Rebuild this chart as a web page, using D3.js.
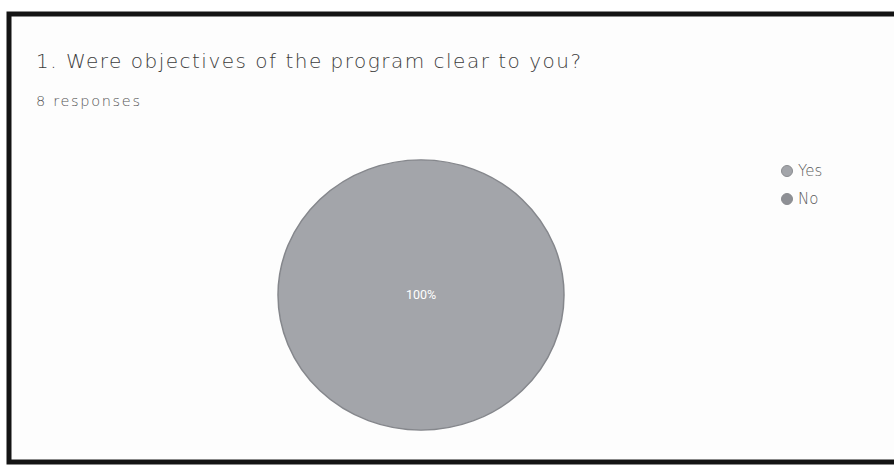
<!DOCTYPE html>
<html><head><meta charset="utf-8">
<script src="https://cdn.jsdelivr.net/npm/d3@7"></script>
<style>html,body{margin:0;padding:0;background:#fff;}</style>
</head><body>
<svg id="c" width="894" height="465"></svg>
<script>
const title = "1. Were objectives of the program clear to you?";
const subtitle = "8 responses";
const categories = ["Yes", "No"];
const values = [8, 0];
const colors = ["#a3a5aa", "#8e9095"];

const svg = d3.select("#c");
// scanned frame
svg.append("rect").attr("x", 9).attr("y", 14).attr("width", 900).attr("height", 448)
  .attr("fill", "#fdfdfd").attr("stroke", "#141414").attr("stroke-width", 5);

svg.append("text").attr("x", 36).attr("y", 68).text(title)
  .attr("textLength", 545).attr("lengthAdjust", "spacing")
  .attr("font-family", "'DejaVu Sans', sans-serif").attr("font-weight", 300)
  .attr("font-size", 20).attr("fill", "#3c3c3c");
svg.append("text").attr("x", 36).attr("y", 106).text(subtitle)
  .attr("textLength", 104).attr("lengthAdjust", "spacing")
  .attr("font-family", "'DejaVu Sans', sans-serif").attr("font-weight", 300)
  .attr("font-size", 14.5).attr("fill", "#555");

const data = categories.map((c, i) => ({cat: c, v: values[i]}));
const pie = d3.pie().sort(null).value(d => d.v);
const arcs = pie(data);
const r = 143;
const arc = d3.arc().innerRadius(0).outerRadius(r);
const g = svg.append("g").attr("transform", "translate(421,295) scale(1,0.945)");
g.selectAll("path").data(arcs.filter(a => a.data.v > 0)).join("path")
  .attr("d", arc).attr("fill", (d) => colors[categories.indexOf(d.data.cat)])
  .attr("stroke", "#85878c").attr("stroke-width", 1.5);
const total = d3.sum(values);
g.selectAll("text.lbl").data(arcs.filter(a => a.data.v > 0)).join("text")
  .attr("class", "lbl")
  .attr("transform", d => {
    const full = (d.endAngle - d.startAngle) > 6.28;
    const p = full ? [0, 0] : arc.centroid(d);
    return `translate(${p[0]},${p[1]}) scale(1,${1/0.945})`;
  })
  .attr("text-anchor", "middle").attr("dy", "0.35em")
  .attr("font-family", "Roboto, Arial, sans-serif").attr("font-size", 12.5).attr("fill", "#fff")
  .text(d => Math.round(d.data.v / total * 1000) / 10 + "%");

const leg = svg.append("g").attr("transform", "translate(787,171)");
const li = leg.selectAll("g").data(categories).join("g").attr("transform", (d, i) => `translate(0,${i * 28})`);
li.append("circle").attr("r", 5.5).attr("fill", (d, i) => colors[i]).attr("stroke", "#8a8c90");
li.append("text").attr("x", 11).attr("dy", "0.35em").text(d => d)
  .attr("font-family", "'DejaVu Sans', sans-serif").attr("font-weight", 300)
  .attr("font-size", 15).attr("fill", "#5a5a5a");
</script>
</body></html>
